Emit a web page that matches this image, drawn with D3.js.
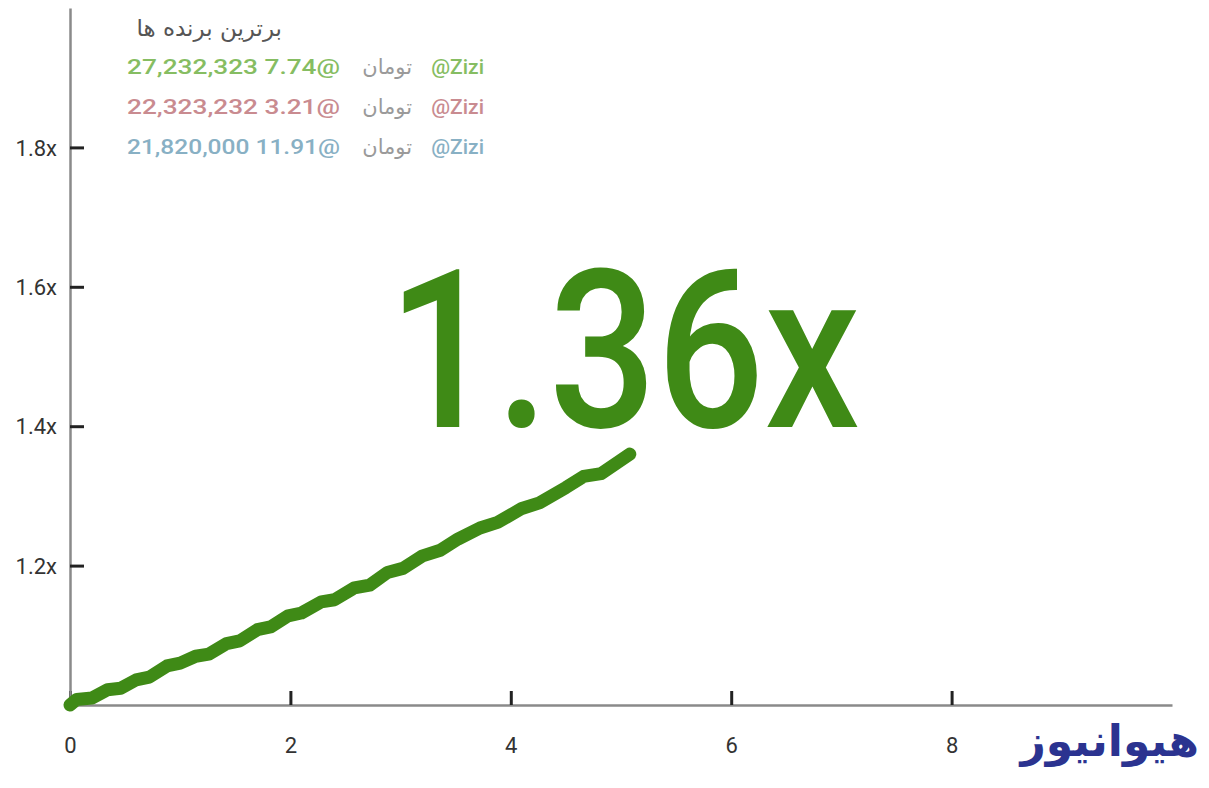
<!DOCTYPE html>
<html>
<head>
<meta charset="utf-8">
<script src="https://cdn.jsdelivr.net/npm/d3@7"></script>
<style>
  body { margin: 0; background: #fff; }
  svg { display: block; }
</style>
</head>
<body>
<script>
// multiplier curve
const xs = [0.00, 0.06, 0.20, 0.34, 0.46, 0.60, 0.72, 0.88, 1.00, 1.14, 1.26, 1.42, 1.54, 1.70, 1.82, 1.98, 2.10, 2.28, 2.40, 2.58, 2.72, 2.88, 3.02, 3.20, 3.36, 3.52, 3.72, 3.88, 4.10, 4.26, 4.50, 4.66, 4.82, 5.08];
const ys = [1.000, 1.008, 1.010, 1.022, 1.024, 1.036, 1.040, 1.056, 1.060, 1.070, 1.073, 1.088, 1.092, 1.108, 1.112, 1.128, 1.132, 1.148, 1.151, 1.168, 1.172, 1.190, 1.196, 1.214, 1.222, 1.238, 1.254, 1.262, 1.282, 1.290, 1.312, 1.328, 1.332, 1.360];
const current = "1.36x";

const xTicks = [0, 2, 4, 6, 8];
const yTicks = [1.2, 1.4, 1.6, 1.8];

const title = "برترین برنده ها";
const winners = ["@Zizi", "@Zizi", "@Zizi"];
const amounts = ["27,232,323 7.74@", "22,323,232 3.21@", "21,820,000 11.91@"];
const winColors = ["#86bd62", "#c98b90", "#88b0c4"];
const unit = "تومان";
const logo = "هیوانیوز";

const W = 1209, H = 788;
const svg = d3.select("body").append("svg")
    .attr("width", W)
    .attr("height", H);

const x = d3.scaleLinear().domain([0, 10]).range([70, 1172]);
const y = d3.scaleLinear().domain([1, 2]).range([705, 8]);

// axes
const xAxis = svg.append("g")
    .attr("transform", "translate(0," + y(1) + ")")
    .call(d3.axisTop(x).tickValues(xTicks).tickSize(14).tickSizeOuter(0).tickFormat(d3.format("d")));
const yAxis = svg.append("g")
    .attr("transform", "translate(" + x(0) + ",0)")
    .call(d3.axisRight(y).tickValues(yTicks).tickSize(14).tickSizeOuter(0).tickFormat(d => d + "x"));

[xAxis, yAxis].forEach(g => {
    g.attr("font-size", null).attr("font-family", null);
    g.select(".domain").attr("stroke", "#8a8a8a").attr("stroke-width", 2.5);
    g.selectAll(".tick line").attr("stroke", "#222").attr("stroke-width", 3);
    g.selectAll("text")
        .attr("font-family", "Roboto, sans-serif")
        .attr("font-size", 22)
        .attr("fill", "#333");
});
xAxis.selectAll(".tick text").attr("y", 48).attr("dy", 0);
yAxis.selectAll(".tick text")
    .attr("x", -13)
    .attr("dy", "0.35em")
    .attr("text-anchor", "end");

// curve
const pts = xs.map((v, i) => [v, ys[i]]);
svg.append("path")
    .datum(pts)
    .attr("fill", "none")
    .attr("stroke", "#3f8a16")
    .attr("stroke-width", 13)
    .attr("stroke-linejoin", "round")
    .attr("stroke-linecap", "round")
    .attr("d", d3.line().x(d => x(d[0])).y(d => y(d[1])));

// big multiplier
svg.append("text")
    .attr("x", 388)
    .attr("y", 427)
    .attr("font-family", "Roboto, sans-serif")
    .attr("font-weight", 500)
    .attr("font-size", 220)
    .attr("textLength", 472)
    .attr("lengthAdjust", "spacingAndGlyphs")
    .attr("fill", "#3f8a16")
    .text(current);

// top winners
svg.append("text")
    .attr("x", 282)
    .attr("y", 36)
    .attr("text-anchor", "end")
    .attr("font-family", "DejaVu Sans, sans-serif")
    .attr("font-size", 23)
    .attr("fill", "#555")
    .text(title);

winners.forEach((w, i) => {
    const by = 74 + i * 40;
    const g = svg.append("g").attr("font-family", "Roboto, sans-serif").attr("font-size", 21).attr("font-weight", 500);
    g.append("text")
        .attr("x", 484).attr("y", by)
        .attr("text-anchor", "end")
        .attr("fill", winColors[i])
        .text(w);
    g.append("text")
        .attr("x", 412).attr("y", by)
        .attr("text-anchor", "end")
        .attr("font-family", "DejaVu Sans, sans-serif")
        .attr("font-weight", "normal")
        .attr("font-size", 21)
        .attr("fill", "#9a9a9a")
        .text(unit);
    g.append("text")
        .attr("x", 127).attr("y", by)
        .attr("textLength", 213)
        .attr("lengthAdjust", "spacingAndGlyphs")
        .attr("fill", winColors[i])
        .text(amounts[i]);
});

// logo
svg.append("text")
    .attr("x", 1199)
    .attr("y", 756)
    .attr("text-anchor", "end")
    .attr("font-family", "DejaVu Sans, sans-serif")
    .attr("font-weight", "bold")
    .attr("font-size", 44)
    .attr("fill", "#2b3390")
    .text(logo);
</script>
</body>
</html>
